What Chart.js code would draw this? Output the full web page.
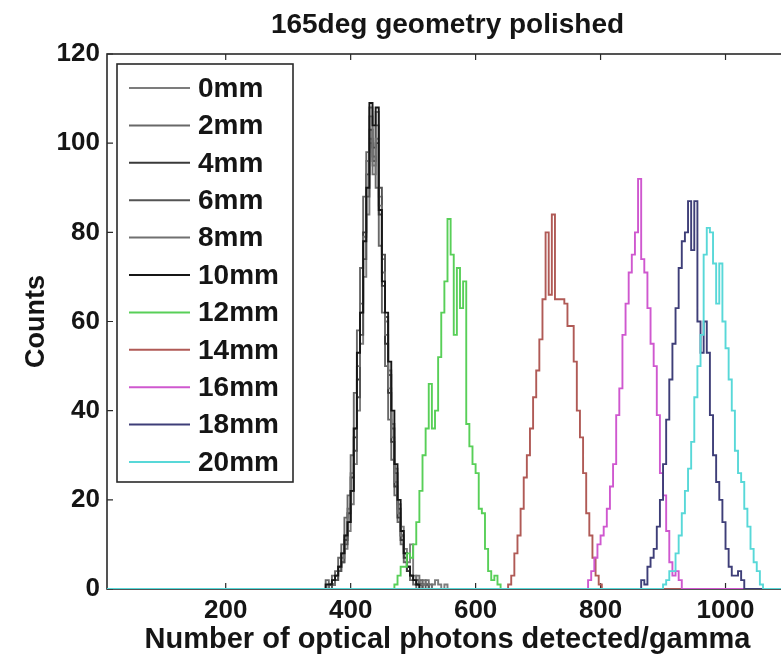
<!DOCTYPE html>
<html>
<head>
<meta charset="utf-8">
<script src="https://cdn.jsdelivr.net/npm/chart.js@4"></script>
<style>
  html, body { margin: 0; padding: 0; background: #fff; overflow: hidden; }
  #wrap { width: 800px; height: 667px; }
</style>
</head>
<body>
<div id="wrap"><canvas id="histChart" width="800" height="667"></canvas></div>
<script>
// histogram counts per 5-photon bin
var seriesLabels = ["0mm", "2mm", "4mm", "6mm", "8mm", "10mm", "12mm", "14mm", "16mm", "18mm", "20mm"];
var binWidth = 5;
var binStarts = [365, 360, 365, 370, 365, 360, 470, 652, 780, 865, 900];

var counts0mm  = [1,2,2,4,6,9,13,19,28,40,55,70,84,101,95,107,88,74,60,49,37,27,19,14,9,6,10,3,2,1,2,1,0,1,2,1,0,1];
var counts2mm  = [2,0,3,4,7,10,16,21,30,44,58,72,88,98,106,97,90,77,62,50,38,29,21,15,10,6,4,2,1,0,2,1,1];
var counts4mm  = [1,1,3,5,8,11,17,25,34,47,62,80,93,103,99,100,84,68,55,44,33,23,16,11,7,4,3,2,1,1];
var counts6mm  = [1,2,4,6,10,15,22,31,43,57,74,88,100,96,104,90,75,61,48,36,26,18,12,8,5,3,2,2,1,0,1];
var counts8mm  = [1,1,3,5,7,12,18,26,36,50,64,79,96,108,93,101,86,71,57,45,34,24,17,12,8,5,3,2,3,1,1,2,1];
var counts10mm = [1,1,2,3,5,8,12,15,22,36,53,62,78,90,109,104,108,85,69,62,51,40,28,20,13,8,5,3,2,1];
var counts12mm = [1,3,5,5,8,7,10,15,22,30,36,46,36,40,52,62,69,83,75,57,72,63,69,37,32,28,26,18,17,9,4,2,3,1];
var counts14mm = [1,3,8,12,18,25,30,36,43,49,56,65,80,66,84,65,65,65,64,59,59,51,40,34,26,17,12,7,3,1];
var counts16mm = [2,4,7,10,12,14,18,23,28,39,45,57,64,71,75,80,92,74,71,63,55,50,39,26,21,13,6,3,4,2];
var counts18mm = [2,1,5,7,9,14,20,28,38,47,55,63,72,78,80,87,76,87,60,53,60,53,39,30,24,20,15,9,5,3,3,4,2];
var counts20mm = [1,2,4,4,8,12,17,22,27,33,43,50,57,75,81,80,73,64,73,60,54,47,40,31,26,24,18,14,9,6,4,1];

var allCounts = [counts0mm, counts2mm, counts4mm, counts6mm, counts8mm, counts10mm,
                 counts12mm, counts14mm, counts16mm, counts18mm, counts20mm];

var xMin = 10, xMax = 1100;
var xTicks = [200, 400, 600, 800, 1000];
var yTicks = [0, 20, 40, 60, 80, 100, 120];

var lineColors = ["#7c7c7c", "#686868", "#3a3a3a", "#545454", "#707070", "#161616",
                  "#58cf58", "#b05a56", "#cf58cf", "#3e3e78", "#58d8d8"];

var FONT = '"Liberation Sans", Arial, Helvetica, sans-serif';

var datasets = seriesLabels.map(function (lab, i) {
  var pts = [{x: xMin, y: 0}];
  allCounts[i].forEach(function (c, k) {
    pts.push({x: binStarts[i] + k * binWidth, y: c});
  });
  pts.push({x: binStarts[i] + allCounts[i].length * binWidth, y: 0});
  pts.push({x: xMax, y: 0});
  return {
    label: lab,
    data: pts,
    borderColor: lineColors[i],
    borderWidth: 1.9,
    pointRadius: 0,
    stepped: true,
    fill: false,
    order: seriesLabels.length - 1 - i
  };
});

// matlab-ish box, inward ticks, title and legend
var matlabLook = {
  id: 'matlabLook',
  beforeDatasetsDraw: function (chart) {
    var ctx = chart.ctx, a = chart.chartArea, x = chart.scales.x, y = chart.scales.y;
    ctx.save();
    ctx.strokeStyle = '#2a2a2a';
    ctx.lineWidth = 1.6;
    ctx.strokeRect(a.left, a.top, a.right - a.left, a.bottom - a.top);
    ctx.lineWidth = 1.2;
    ctx.beginPath();
    xTicks.forEach(function (v) {
      var px = x.getPixelForValue(v);
      ctx.moveTo(px, a.bottom); ctx.lineTo(px, a.bottom - 6);
      ctx.moveTo(px, a.top); ctx.lineTo(px, a.top + 6);
    });
    yTicks.forEach(function (v) {
      var py = y.getPixelForValue(v);
      ctx.moveTo(a.left, py); ctx.lineTo(a.left + 6, py);
      ctx.moveTo(a.right, py); ctx.lineTo(a.right - 6, py);
    });
    ctx.stroke();
    ctx.restore();
  },
  afterDraw: function (chart) {
    var ctx = chart.ctx, a = chart.chartArea;
    ctx.save();
    // title
    ctx.fillStyle = '#151515';
    ctx.font = 'bold 28px ' + FONT;
    ctx.textAlign = 'center';
    ctx.textBaseline = 'alphabetic';
    ctx.fillText('165deg geometry polished', (a.left + a.right) / 2, 33);
    // legend
    var bx = a.left + 10, by = a.top + 10, bw = 176, bh = 418;
    ctx.fillStyle = '#fff';
    ctx.fillRect(bx, by, bw, bh);
    ctx.strokeStyle = '#2a2a2a';
    ctx.lineWidth = 1.6;
    ctx.strokeRect(bx, by, bw, bh);
    ctx.font = 'bold 28px ' + FONT;
    ctx.textAlign = 'left';
    ctx.textBaseline = 'middle';
    chart.data.datasets.forEach(function (ds, i) {
      var ry = by + 24 + i * 37.4;
      ctx.strokeStyle = ds.borderColor;
      ctx.lineWidth = 2;
      ctx.beginPath();
      ctx.moveTo(bx + 12, ry);
      ctx.lineTo(bx + 73, ry);
      ctx.stroke();
      ctx.fillStyle = '#151515';
      ctx.fillText(ds.label, bx + 81, ry + 1);
    });
    ctx.restore();
  }
};

new Chart(document.getElementById('histChart'), {
  type: 'line',
  data: { datasets: datasets },
  plugins: [matlabLook],
  options: {
    responsive: false,
    animation: false,
    devicePixelRatio: 1,
    layout: { padding: { top: 54, right: 12, left: 0, bottom: 0 } },
    plugins: { legend: { display: false }, title: { display: false }, tooltip: { enabled: false } },
    scales: {
      x: {
        type: 'linear',
        min: xMin,
        max: xMax,
        afterBuildTicks: function (axis) { axis.ticks = xTicks.map(function (v) { return {value: v}; }); },
        afterFit: function (axis) { axis.height = 78; },
        grid: { display: false, drawTicks: false },
        border: { display: false },
        ticks: { color: '#151515', padding: 6, maxRotation: 0,
                 callback: function (v) { return String(v); },
                 font: { family: FONT, size: 26, weight: 'bold' } },
        title: { display: true, text: 'Number of optical photons detected/gamma', color: '#151515',
                 padding: { top: 0, bottom: 10 }, font: { family: FONT, size: 29, weight: 'bold' } }
      },
      y: {
        min: 0,
        max: 120,
        afterBuildTicks: function (axis) { axis.ticks = yTicks.map(function (v) { return {value: v}; }); },
        afterFit: function (axis) { axis.width = 107; },
        grid: { display: false, drawTicks: false },
        border: { display: false },
        ticks: { color: '#151515', padding: 7, font: { family: FONT, size: 26, weight: 'bold' } },
        title: { display: true, text: 'Counts', color: '#151515',
                 padding: { top: 20, bottom: 0 }, font: { family: FONT, size: 27, weight: 'bold' } }
      }
    }
  }
});
</script>
</body>
</html>
